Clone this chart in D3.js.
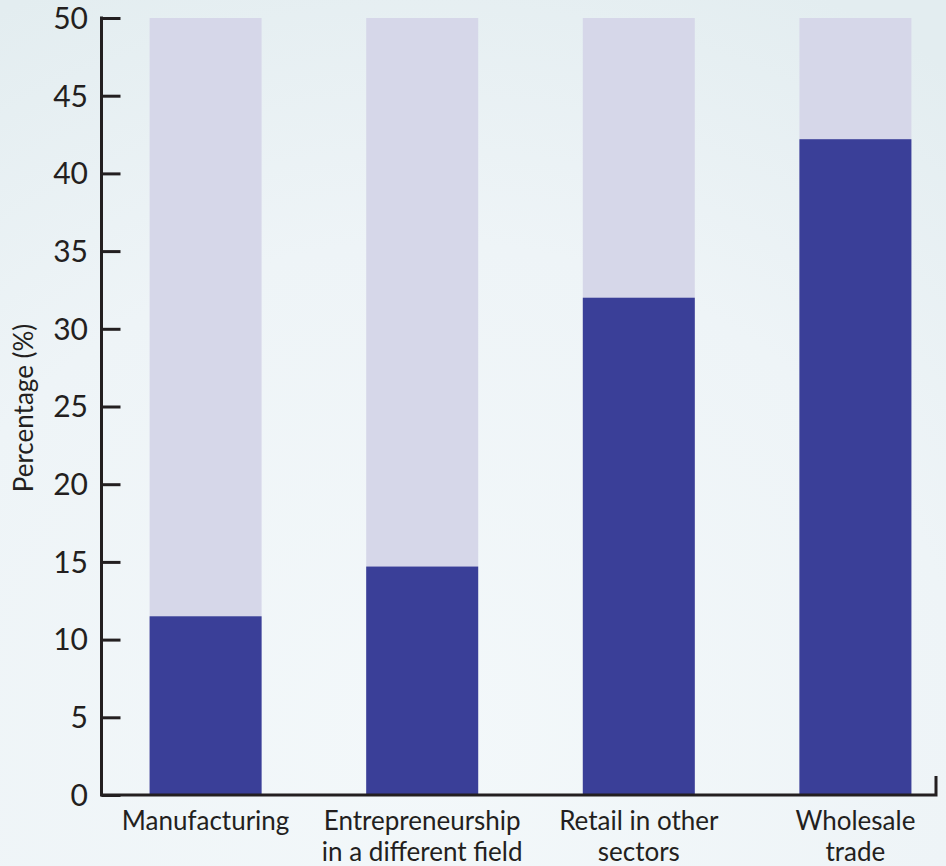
<!DOCTYPE html>
<html>
<head>
<meta charset="utf-8">
<script src="https://cdn.jsdelivr.net/npm/d3@7"></script>
<style>
  html, body { margin: 0; padding: 0; }
  body { width: 946px; height: 866px; overflow: hidden; }
  svg { display: block; }
</style>
</head>
<body>
<svg id="chart" width="946" height="866"></svg>
<script>
// Share of respondents moving into each field (%)
const categories = [
  ["Manufacturing"],
  ["Entrepreneurship", "in a different field"],
  ["Retail in other", "sectors"],
  ["Wholesale", "trade"]
];
const values = [11.5, 14.7, 32.0, 42.2];
const yMax = 50;
const yTicks = [0, 5, 10, 15, 20, 25, 30, 35, 40, 45, 50];

const W = 946, H = 866;
const svg = d3.select("#chart");
const font = "Lato, 'Open Sans', sans-serif";
const ink = "#231f20";

// soft pale background
const defs = svg.append("defs");
const grad = defs.append("radialGradient")
  .attr("id", "bg").attr("cx", "45%").attr("cy", "85%").attr("r", "95%");
grad.append("stop").attr("offset", "0%").attr("stop-color", "#f3f8fa");
grad.append("stop").attr("offset", "60%").attr("stop-color", "#eef4f7");
grad.append("stop").attr("offset", "100%").attr("stop-color", "#e3edf0");
svg.append("rect").attr("width", W).attr("height", H).attr("fill", "url(#bg)");

const axisX = 101.5, axisRight = 936, y0 = 795, yTop = 18;

const y = d3.scaleLinear().domain([0, yMax]).range([y0, yTop]);
const x = d3.scaleBand()
  .domain(categories.map((c, i) => i))
  .range([97.3, 963.7])
  .paddingInner(0.483)
  .paddingOuter(0.2415);

// full-height track behind each bar
svg.append("g").selectAll("rect")
  .data(values)
  .join("rect")
  .attr("x", (d, i) => x(i))
  .attr("width", x.bandwidth())
  .attr("y", y(yMax))
  .attr("height", y(0) - y(yMax))
  .attr("fill", "#d6d7e9");

// value bars
svg.append("g").selectAll("rect")
  .data(values)
  .join("rect")
  .attr("x", (d, i) => x(i))
  .attr("width", x.bandwidth())
  .attr("y", d => y(d))
  .attr("height", d => y(0) - y(d))
  .attr("fill", "#3a3f98");

// y axis with ticks pointing inward
const yAxis = d3.axisRight(y).tickValues(yTicks).tickSize(19).tickFormat("");
const gy = svg.append("g").attr("transform", `translate(${axisX},0)`).call(yAxis);
gy.select(".domain").remove();
gy.selectAll(".tick line").attr("stroke", ink).attr("stroke-width", 3);
svg.append("line")
  .attr("x1", axisX).attr("x2", axisX)
  .attr("y1", yTop - 1.5).attr("y2", y0 + 1.5)
  .attr("stroke", ink).attr("stroke-width", 3);

svg.append("g").selectAll("text")
  .data(yTicks)
  .join("text")
  .attr("x", 88)
  .attr("y", d => y(d))
  .attr("dy", "0.36em")
  .attr("text-anchor", "end")
  .attr("font-family", font)
  .attr("font-size", 30)
  .attr("fill", ink)
  .text(d => d);

// x axis baseline with a short upright end
svg.append("path")
  .attr("d", `M${axisX},${y0} H${axisRight} V${y0 - 19}`)
  .attr("fill", "none")
  .attr("stroke", ink)
  .attr("stroke-width", 3);

// category labels
const lab = svg.append("g").selectAll("text")
  .data(categories)
  .join("text")
  .attr("text-anchor", "middle")
  .attr("font-family", font)
  .attr("font-size", 26)
  .attr("fill", ink);
lab.selectAll("tspan")
  .data((d, i) => d.map(s => ({ s, i })))
  .join("tspan")
  .attr("x", d => x(d.i) + x.bandwidth() / 2)
  .attr("y", (d, j) => 830 + j * 31)
  .text(d => d.s);

// y axis title
svg.append("text")
  .attr("transform", `translate(33,408) rotate(-90)`)
  .attr("text-anchor", "middle")
  .attr("font-family", font)
  .attr("font-size", 26)
  .attr("fill", ink)
  .text("Percentage (%)");
</script>
</body>
</html>
